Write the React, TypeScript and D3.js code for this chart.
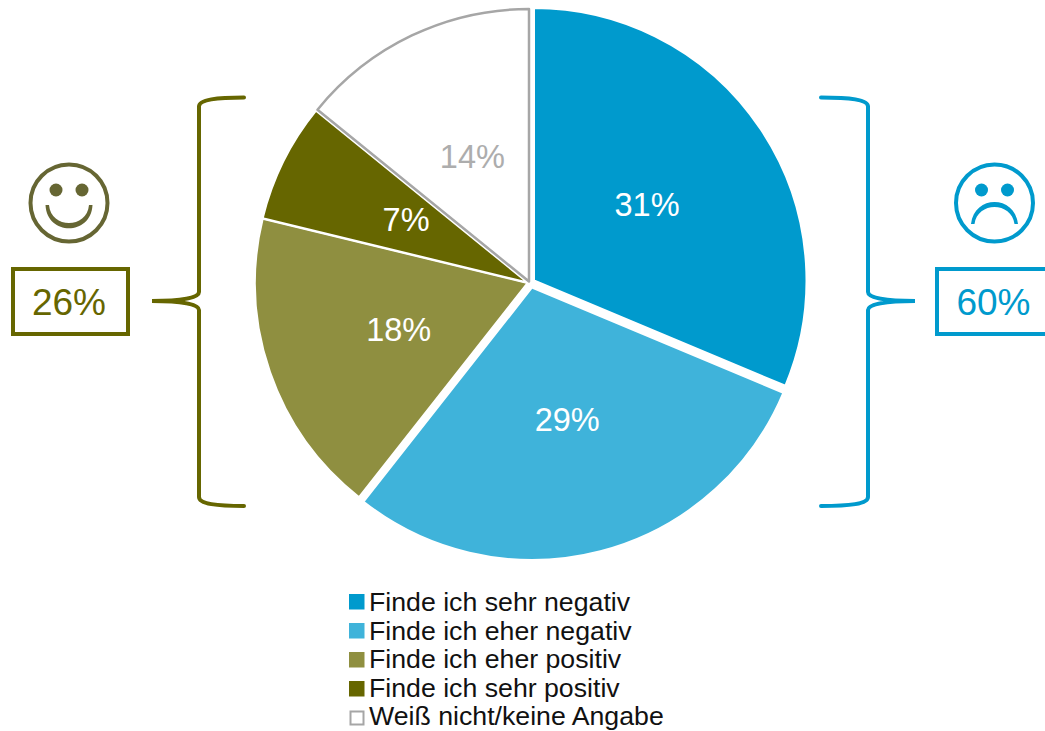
import React from "react";
import * as d3 from "d3";

// Survey answers, in clockwise order from twelve o'clock
const categories = [
  "Finde ich sehr negativ",
  "Finde ich eher negativ",
  "Finde ich eher positiv",
  "Finde ich sehr positiv",
  "Weiß nicht/keine Angabe",
];
const shares = [31, 29, 18, 7, 14];
const fills = ["#009ACD", "#3FB3DA", "#8F8F40", "#666600", "#FFFFFF"];
const strokes = ["#FFFFFF", "#FFFFFF", "#FFFFFF", "#FFFFFF", "#A6A6A6"];
const labelColors = ["#FFFFFF", "#FFFFFF", "#FFFFFF", "#FFFFFF", "#ADADAD"];

// Slice displacement from the pie centre
const sliceShift: [number, number][] = [[5, -1.5], [3, 5.5], [-1.5, 1], [-1.5, 0.5], [0, -0.5]];
// Fine placement of each percentage inside its slice
const labelShift: [number, number][] = [[-3.5, 2], [0, -3], [3.5, 1.5], [4, 0], [3.5, 2]];

const FONT = "'Liberation Sans', Arial, sans-serif";
const BLUE = "#009ACD";
const OLIVE = "#666600";
const FACE_OLIVE = "#666633";
const CX = 529;
const CY = 282;
const R = 272.5;
const LABEL_RADIUS = 140;

const pie = d3.pie<number>().sort(null).value((d) => d);
const arcs = pie(shares);
const arc = d3.arc<d3.PieArcDatum<number>>().innerRadius(0).outerRadius(R);
const labelArc = d3.arc<d3.PieArcDatum<number>>().innerRadius(LABEL_RADIUS).outerRadius(LABEL_RADIUS);

// Curly bracket whose tip points towards `dir` (−1 left, +1 right)
function brace(x: number, top: number, tipY: number, bottom: number, dir: number, reach: number, tip: number) {
  const p = d3.path();
  p.moveTo(x - dir * reach, top);
  p.bezierCurveTo(x - dir * 18, top, x, top + 2, x, top + 9);
  p.lineTo(x, tipY - 9);
  p.bezierCurveTo(x, tipY - 3, x + dir * 18, tipY, x + dir * tip, tipY);
  p.bezierCurveTo(x + dir * 18, tipY, x, tipY + 3, x, tipY + 9);
  p.lineTo(x, bottom - 9);
  p.bezierCurveTo(x, bottom - 2, x - dir * 18, bottom, x - dir * reach, bottom);
  return p.toString();
}

function Face({ cx, cy, color, happy }: { cx: number; cy: number; color: string; happy: boolean }) {
  const mouth = happy
    ? `M${cx - 23.5},${cy + 2} C${cx - 22},${cy + 33} ${cx + 22},${cy + 33} ${cx + 23.5},${cy + 2} L${cx + 20},${cy + 2} C${cx + 18},${cy + 26} ${cx - 18},${cy + 26} ${cx - 20},${cy + 2}Z`
    : `M${cx - 23.5},${cy + 21} C${cx - 20},${cy - 8.3} ${cx + 20},${cy - 8.3} ${cx + 23.5},${cy + 21} L${cx + 20},${cy + 21} C${cx + 17},${cy - 1.7} ${cx - 17},${cy - 1.7} ${cx - 20},${cy + 21}Z`;
  return (
    <g>
      <circle cx={cx} cy={cy} r={38.5} fill="none" stroke={color} strokeWidth={4} />
      <circle cx={cx - 13} cy={cy - 13} r={6.5} fill={color} />
      <circle cx={cx + 13} cy={cy - 13} r={6.5} fill={color} />
      <path d={mouth} fill={color} />
    </g>
  );
}

export default function App() {
  return (
    <svg
      width={1045}
      height={731}
      viewBox="0 0 1045 731"
      style={{ position: "absolute", left: 0, top: 0, display: "block", background: "#fff" }}
      fontFamily={FONT}
    >
      {arcs.map((a, i) => {
        const [lx, ly] = labelArc.centroid(a);
        const [dx, dy] = sliceShift[i];
        const [nx, ny] = labelShift[i];
        return (
          <g key={categories[i]} transform={`translate(${CX + dx},${CY + dy})`}>
            <path d={arc(a) ?? ""} fill={fills[i]} stroke={strokes[i]} strokeWidth={i === 4 ? 2.5 : 2} strokeLinejoin="round" />
            <text x={lx + nx} y={ly + ny} textAnchor="middle" dominantBaseline="central" fontSize={32.5} fill={labelColors[i]}>
              {shares[i]}%
            </text>
          </g>
        );
      })}

      <path d={brace(199, 97.5, 301, 506, -1, 45, 47)} fill="none" stroke={OLIVE} strokeWidth={4} strokeLinecap="round" />
      <path d={brace(868, 97.5, 301, 506, 1, 47, 47)} fill="none" stroke={BLUE} strokeWidth={4} strokeLinecap="round" />

      <Face cx={69} cy={203} color={FACE_OLIVE} happy />
      <Face cx={994.5} cy={203} color={BLUE} happy={false} />

      <rect x={13} y={269} width={115} height={65} fill="#fff" stroke={OLIVE} strokeWidth={4} />
      <text x={69} y={315} textAnchor="middle" fontSize={37} fill={OLIVE}>26%</text>
      <rect x={937} y={269} width={130} height={65} fill="#fff" stroke={BLUE} strokeWidth={4} />
      <text x={993.5} y={315} textAnchor="middle" fontSize={37} fill={BLUE}>60%</text>

      {categories.map((c, i) => {
        const y = 602 + i * 29;
        return (
          <g key={c}>
            <rect
              x={i === 4 ? 350.5 : 349}
              y={i === 4 ? y - 6.5 : y - 8}
              width={i === 4 ? 13 : 15.5}
              height={i === 4 ? 13 : 15.5}
              fill={fills[i]}
              stroke={i === 4 ? "#A6A6A6" : "none"}
              strokeWidth={2}
            />
            <text x={369} y={611 + i * 28.6} fontSize={26.7} fill="#111">{c}</text>
          </g>
        );
      })}
    </svg>
  );
}
